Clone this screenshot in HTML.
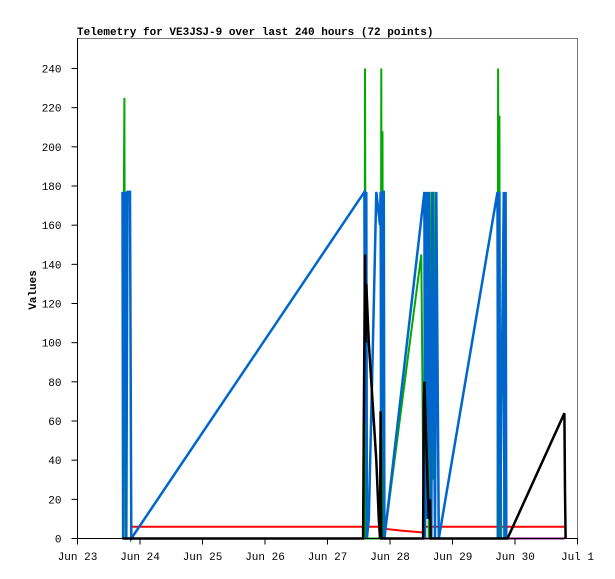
<!DOCTYPE html>
<html><head><meta charset="utf-8"><style>
body{margin:0;background:#fff;}
svg{display:block;font-family:"Liberation Mono","DejaVu Sans Mono",monospace;}
</style></head><body>
<svg width="615" height="579" id="chart">
<rect width="615" height="579" fill="#fff"/>
<text x="77" y="35" font-size="11" font-weight="bold">Telemetry for VE3JSJ-9 over last 240 hours (72 points)</text>
<text transform="translate(36,290) rotate(-90)" text-anchor="middle" font-size="11" font-weight="bold">Values</text>
<rect x="77.5" y="38.5" width="500" height="500" fill="none" stroke="#777"/>
<g id="series"></g>
<g id="axes"></g>
</svg>
<script>
const xTickLabels=["Jun 23","Jun 24","Jun 25","Jun 26","Jun 27","Jun 28","Jun 29","Jun 30","Jul 1"];
const yTickValues=[0,20,40,60,80,100,120,140,160,180,200,220,240];
const redT=[0.86,4.85,4.90,5.20,5.55,5.56,7.79];
const redV=[6,6,5,4,3,6,6];
const purpleT=[4.62,4.85,5.60,5.65,6.88,7.79];
const purpleV=[0,0,0,0,0,0];
const greenT=[0.74,0.75,0.76,0.77,0.78,4.59,4.60,4.61,4.62,4.85,4.86,4.87,4.88,4.89,4.95,5.50,5.54,5.56,5.58,5.60,5.62,5.66,5.68,5.70,5.72,6.72,6.73,6.74,6.75,6.76,6.77,6.78];
const greenV=[168,225,60,0,0,0,240,100,0,0,240,0,208,0,10,145,0,120,40,100,0,177,30,177,0,0,240,20,216,30,75,0];
const blueT=[0.72,0.73,0.74,0.76,0.77,0.78,0.80,0.82,0.84,0.86,4.59,4.60,4.62,4.63,4.66,4.72,4.78,4.84,4.85,4.86,4.88,4.90,4.91,5.55,5.56,5.58,5.60,5.62,5.66,5.68,5.72,5.74,5.78,6.72,6.73,6.75,6.76,6.82,6.83,6.85,6.86];
const blueV=[177,0,177,100,177,0,177,177,177,0,177,60,177,0,10,90,177,160,177,30,177,177,0,177,0,177,10,177,0,177,0,177,0,177,0,177,0,177,0,177,0];
const blackT=[0.72,4.57,4.58,4.60,4.61,4.62,4.66,4.70,4.74,4.78,4.82,4.84,4.85,4.86,4.88,4.90,5.53,5.54,5.55,5.57,5.60,5.62,5.64,5.65,5.66,5.68,6.88,7.79,7.80,7.81];
const blackV=[0,0,60,145,100,130,100,80,60,40,10,0,65,0,0,0,0,70,80,60,30,10,20,0,0,0,0,64,24,0];
const X0=77.5,DAY=62.5,Y0=538.5,PPU=470/240;
const xs=d=>X0+d*DAY, ys=v=>Y0-v*PPU;
const NS="http://www.w3.org/2000/svg";
const sg=document.getElementById('series'), ag=document.getElementById('axes');
function line(T,V,color,name,w){
  const p=document.createElementNS(NS,'polyline');
  p.setAttribute('points',T.map((t,i)=>xs(t).toFixed(1)+','+ys(V[i]).toFixed(1)).join(' '));
  p.setAttribute('fill','none');p.setAttribute('stroke',color);p.setAttribute('stroke-width',w);
  
  
  sg.appendChild(p);
}
line(purpleT,purpleV,'#800080','series-purple',2);
line(redT,redV,'#ff0000','series-red',2);
line(greenT,greenV,'#00aa00','series-green',2);
line(blueT,blueV,'#0066cc','series-blue',2.5);
line(blackT,blackV,'#000000','series-black',2.5);
function el(tag,attrs){const e=document.createElementNS(NS,tag);for(const k in attrs)e.setAttribute(k,attrs[k]);ag.appendChild(e);return e;}
const ax=el('line',{x1:X0,y1:38,x2:X0,y2:Y0,stroke:'#000'});


const bx=el('line',{x1:X0,y1:Y0,x2:577.5,y2:Y0,stroke:'#000'});


yTickValues.forEach(v=>{
  const t=el('line',{x1:X0-6,y1:ys(v),x2:X0,y2:ys(v),stroke:'#000'});
  
  
  const l=el('text',{x:X0-16,y:ys(v)+4,'font-size':11,'text-anchor':'end'});
  l.textContent=v;
  
  
});
xTickLabels.forEach((s,i)=>{
  const t=el('line',{x1:xs(i),y1:Y0,x2:xs(i),y2:Y0+6,stroke:'#000'});
  
  
  const l=el('text',{x:xs(i),y:560,'font-size':11,'text-anchor':'middle'});
  l.textContent=s;
  
  
});
</script>
</body></html>
